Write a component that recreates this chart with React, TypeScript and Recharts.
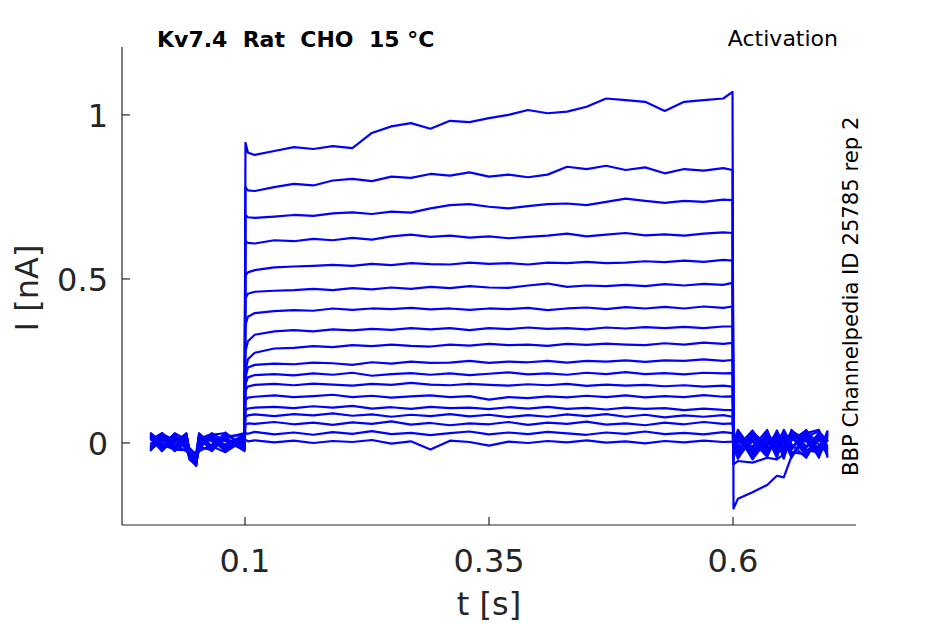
import React from 'react';
import { Line, LineChart, XAxis, YAxis } from 'recharts';

// time grids [s]: holding, step, tail
const PRE_T = [0.003, 0.015, 0.028, 0.04, 0.043, 0.05, 0.053, 0.066, 0.08, 0.0995];
const STEP_T = [
  0.1005, 0.103, 0.11, 0.13, 0.15, 0.17, 0.19, 0.21, 0.23, 0.25, 0.27, 0.29, 0.31, 0.33,
  0.35, 0.37, 0.39, 0.41, 0.43, 0.45, 0.47, 0.49, 0.51, 0.53, 0.55, 0.57, 0.59, 0.5995,
];
const POST_T = [0.6005, 0.605, 0.62, 0.635, 0.645, 0.652, 0.66, 0.675, 0.688, 0.697];

const X_TICKS = [0.1, 0.35, 0.6];
const Y_TICKS = [0, 0.5, 1];

// currents [nA], one sweep per array (pre | step | post)
const I01 = [
  0.02, -0.015, 0.025, -0.01, -0.03, -0.05, 0.015, -0.02, 0.028, -0.012,
  0.915, 0.885, 0.878, 0.89, 0.902, 0.896, 0.905, 0.899, 0.945, 0.965, 0.975, 0.958, 0.982, 0.978,
  0.99, 1.0, 1.015, 1.005, 1.01, 1.025, 1.05, 1.045, 1.04, 1.012, 1.04, 1.045, 1.05, 1.07,
  -0.2, -0.17, -0.15, -0.128, -0.1, -0.105, -0.04, 0.012, -0.022, 0.018,
];
const I02 = [
  -0.018, 0.022, -0.012, 0.02, -0.04, -0.065, -0.01, 0.025, -0.015, 0.02,
  0.78, 0.77, 0.768, 0.78, 0.79, 0.785, 0.8, 0.805, 0.798, 0.812, 0.808, 0.82, 0.815, 0.825,
  0.812, 0.818, 0.81, 0.818, 0.842, 0.835, 0.845, 0.832, 0.84, 0.822, 0.835, 0.83, 0.838, 0.832,
  -0.065, -0.055, -0.06, -0.045, -0.05, -0.035, 0.02, -0.03, 0.025, -0.015,
];
const I03 = [
  0.01, 0.03, -0.02, 0.015, -0.025, -0.055, 0.022, -0.018, 0.015, 0.03,
  0.695, 0.688, 0.686, 0.69, 0.695, 0.692, 0.7, 0.703, 0.698, 0.705, 0.702, 0.715, 0.725, 0.728,
  0.72, 0.715, 0.722, 0.728, 0.73, 0.725, 0.735, 0.745, 0.738, 0.732, 0.738, 0.735, 0.742, 0.74,
  -0.04, 0.02, -0.03, 0.03, -0.02, 0.025, -0.035, 0.015, -0.025, 0.03,
];
const I04 = [
  -0.022, 0.008, 0.018, -0.02, -0.035, -0.04, -0.015, 0.018, -0.022, 0.005,
  0.615, 0.61, 0.608, 0.618, 0.615, 0.622, 0.618, 0.625, 0.62, 0.63, 0.635, 0.628, 0.632, 0.626,
  0.63, 0.624, 0.628, 0.632, 0.638, 0.63, 0.635, 0.64, 0.633, 0.636, 0.632, 0.638, 0.642, 0.64,
  0.03, -0.045, 0.015, -0.01, 0.035, -0.03, 0.02, -0.04, 0.028, -0.01,
];
const I05 = [
  0.028, -0.02, 0.005, 0.025, -0.02, -0.06, 0.01, -0.01, 0.032, -0.018,
  0.51, 0.52, 0.527, 0.535, 0.538, 0.54, 0.543, 0.54, 0.546, 0.542, 0.548, 0.545, 0.544, 0.55,
  0.546, 0.548, 0.544, 0.55, 0.548, 0.552, 0.548, 0.55, 0.554, 0.551, 0.556, 0.552, 0.558, 0.556,
  -0.02, 0.035, -0.04, 0.022, -0.01, 0.01, -0.045, 0.032, -0.02, 0.02,
];
const I06 = [
  -0.01, 0.015, -0.025, 0.008, -0.045, -0.07, 0.025, 0.005, -0.02, 0.015,
  0.44, 0.455, 0.461, 0.464, 0.466, 0.47, 0.466, 0.472, 0.468, 0.474, 0.47, 0.476, 0.472, 0.478,
  0.474, 0.473, 0.48, 0.486, 0.476, 0.48, 0.478, 0.482, 0.478, 0.484, 0.48, 0.485, 0.482, 0.488,
  0.01, -0.03, 0.028, -0.035, 0.015, -0.048, 0.03, -0.01, 0.015, -0.04,
];
const I07 = [
  0.015, -0.025, 0.02, -0.015, -0.015, -0.035, -0.02, 0.03, 0.005, -0.022,
  0.36, 0.385, 0.396, 0.402, 0.405, 0.403, 0.41, 0.406, 0.41, 0.408, 0.412, 0.407, 0.41, 0.406,
  0.41, 0.408, 0.412, 0.405, 0.41, 0.413, 0.408, 0.414, 0.41, 0.415, 0.41, 0.416, 0.412, 0.416,
  -0.05, 0.012, -0.015, 0.04, -0.04, 0.02, -0.012, 0.025, -0.045, 0.035,
];
const I08 = [
  -0.025, 0.025, 0.0, 0.03, -0.03, -0.045, 0.018, -0.025, 0.02, 0.025,
  0.28, 0.31, 0.33, 0.34, 0.344, 0.34, 0.346, 0.343, 0.348, 0.345, 0.35, 0.346, 0.35, 0.344,
  0.35, 0.347, 0.352, 0.348, 0.35, 0.346, 0.352, 0.349, 0.353, 0.35, 0.354, 0.35, 0.355, 0.355,
  0.025, -0.01, 0.038, -0.025, 0.005, 0.035, -0.028, -0.035, 0.01, -0.025,
];
const I09 = [
  0.032, 0.0, -0.015, -0.005, -0.05, -0.068, -0.005, 0.012, -0.025, 0.01,
  0.22, 0.255, 0.275, 0.288, 0.29, 0.295, 0.292, 0.298, 0.295, 0.3, 0.296, 0.294, 0.3, 0.297,
  0.302, 0.298, 0.3, 0.296, 0.302, 0.299, 0.303, 0.3, 0.298, 0.304, 0.3, 0.306, 0.302, 0.305,
  -0.03, 0.028, -0.05, 0.01, -0.032, -0.015, 0.038, 0.005, -0.038, 0.025,
];
const I10 = [
  0.0, -0.01, 0.03, 0.01, -0.025, -0.03, 0.03, -0.015, 0.01, -0.02,
  0.2, 0.23, 0.238, 0.242, 0.24, 0.245, 0.243, 0.238, 0.246, 0.242, 0.248, 0.244, 0.245, 0.25,
  0.244, 0.248, 0.246, 0.25, 0.245, 0.25, 0.248, 0.252, 0.247, 0.252, 0.25, 0.255, 0.25, 0.253,
  0.035, -0.038, 0.005, -0.042, 0.03, -0.022, 0.008, 0.038, -0.005, -0.03,
];
const I11 = [
  -0.015, 0.03, -0.005, -0.025, -0.035, -0.058, 0.005, 0.022, -0.01, 0.028,
  0.18, 0.2, 0.207, 0.21, 0.206, 0.212, 0.208, 0.214, 0.205, 0.21, 0.213, 0.208, 0.212, 0.207,
  0.211, 0.215, 0.209, 0.212, 0.208, 0.214, 0.21, 0.216, 0.21, 0.213, 0.209, 0.214, 0.212, 0.213,
  -0.01, 0.04, -0.022, 0.018, -0.045, 0.03, -0.038, 0.02, 0.035, 0.005,
];
const I12 = [
  0.022, -0.022, 0.012, 0.022, -0.02, -0.042, -0.025, -0.005, 0.025, -0.005,
  0.16, 0.172, 0.177, 0.18, 0.176, 0.181, 0.178, 0.175, 0.18, 0.177, 0.183, 0.178, 0.176, 0.18,
  0.177, 0.175, 0.179, 0.176, 0.18, 0.174, 0.178, 0.175, 0.177, 0.173, 0.176, 0.172, 0.175, 0.172,
  0.018, -0.025, 0.032, -0.005, 0.02, -0.04, 0.015, -0.02, -0.03, 0.038,
];
const I13 = [
  -0.005, 0.018, -0.022, 0.0, -0.04, -0.062, 0.012, 0.028, -0.018, 0.018,
  0.13, 0.138, 0.141, 0.145, 0.14, 0.143, 0.147, 0.14, 0.144, 0.138, 0.142, 0.145, 0.14, 0.143,
  0.132, 0.14, 0.137, 0.142, 0.139, 0.144, 0.14, 0.145, 0.139, 0.143, 0.14, 0.146, 0.141, 0.142,
  -0.045, 0.005, -0.01, 0.035, -0.025, 0.04, -0.005, -0.045, 0.02, -0.035,
];
const I14 = [
  0.025, -0.008, 0.028, -0.018, -0.03, -0.05, -0.012, -0.022, 0.018, -0.025,
  0.1, 0.105, 0.108, 0.11, 0.106, 0.112, 0.108, 0.113, 0.105, 0.109, 0.104, 0.11, 0.106, 0.108,
  0.103, 0.109, 0.105, 0.11, 0.104, 0.107, 0.102, 0.108, 0.104, 0.106, 0.1, 0.105, 0.101, 0.1,
  0.005, -0.048, 0.022, -0.03, 0.038, -0.01, 0.035, 0.01, -0.015, 0.012,
];
const I15 = [
  -0.02, 0.01, -0.01, 0.028, -0.022, -0.038, 0.02, 0.01, -0.005, 0.022,
  0.08, 0.084, 0.087, 0.082, 0.088, 0.084, 0.09, 0.083, 0.087, 0.08, 0.086, 0.082, 0.088, 0.081,
  0.086, 0.079, 0.085, 0.08, 0.087, 0.082, 0.088, 0.08, 0.086, 0.078, 0.084, 0.08, 0.085, 0.08,
  -0.025, 0.03, -0.035, 0.005, -0.015, 0.018, -0.04, 0.03, 0.04, -0.045,
];
const I16 = [
  0.012, -0.02, 0.022, -0.008, -0.045, -0.055, -0.018, 0.025, 0.03, -0.01,
  0.055, 0.06, 0.058, 0.064, 0.057, 0.062, 0.055, 0.063, 0.058, 0.066, 0.056, 0.061, 0.054, 0.06,
  0.057, 0.064, 0.055, 0.062, 0.058, 0.065, 0.056, 0.06, 0.054, 0.062, 0.057, 0.064, 0.058, 0.06,
  0.04, -0.015, 0.01, -0.04, 0.025, -0.028, 0.025, -0.03, -0.01, 0.028,
];
const I17 = [
  -0.012, 0.028, 0.008, 0.012, -0.028, -0.048, 0.028, -0.01, -0.028, 0.012,
  0.03, 0.028, 0.034, 0.026, 0.032, 0.025, 0.033, 0.028, 0.036, 0.027, 0.031, 0.024, 0.03, 0.035,
  0.026, 0.032, 0.027, 0.034, 0.029, 0.025, 0.032, 0.028, 0.035, 0.027, 0.031, 0.026, 0.033, 0.03,
  -0.035, 0.018, -0.045, 0.028, -0.005, 0.005, -0.02, 0.04, -0.04, 0.01,
];
const I18 = [
  0.018, -0.005, -0.02, -0.022, -0.038, -0.066, 0.0, 0.015, 0.008, 0.0,
  0.01, 0.005, 0.008, 0.002, 0.007, 0.0, 0.006, 0.003, 0.009, -0.002, 0.005, -0.02, 0.007, 0.003,
  -0.008, 0.004, 0.0, 0.006, 0.002, 0.008, 0.001, 0.005, -0.001, 0.006, 0.002, 0.007, 0.003, 0.004,
  0.015, -0.035, 0.035, -0.018, 0.01, -0.045, 0.04, -0.015, 0.03, -0.02,
];

const SWEEPS = [I01, I02, I03, I04, I05, I06, I07, I08, I09, I10, I11, I12, I13, I14, I15, I16, I17, I18];
const T = [...PRE_T, ...STEP_T, ...POST_T];

const AXIS = '#262626';
const FONT = 'DejaVu Sans';

const YTick = (props: any) => {
  const { x, y, payload } = props;
  return (
    <g>
      <line x1={x} x2={x + 8} y1={y} y2={y} stroke={AXIS} strokeWidth={1.2} />
      <text x={x - 14} y={y + 12} textAnchor="end" fontSize={32} fontFamily={FONT} fill={AXIS}>
        {payload.value}
      </text>
    </g>
  );
};

const XTick = (props: any) => {
  const { x, y, payload } = props;
  return (
    <g>
      <line x1={x} x2={x} y1={y} y2={y - 8} stroke={AXIS} strokeWidth={1.2} />
      <text x={x} y={y + 47} textAnchor="middle" fontSize={32} fontFamily={FONT} fill={AXIS}>
        {payload.value}
      </text>
    </g>
  );
};

export default function App() {
  return (
    <div style={{ position: 'absolute', left: 0, top: 0, width: 945, height: 624, background: '#fff' }}>
      <LineChart width={945} height={624} margin={{ top: 47, right: 89, bottom: 39, left: 62 }}>
        <XAxis
          type="number"
          dataKey="t"
          domain={[-0.026, 0.726]}
          ticks={X_TICKS}
          allowDataOverflow
          height={60}
          axisLine={{ stroke: AXIS, strokeWidth: 1.2 }}
          tickLine={false}
          tickSize={0}
          tickMargin={0}
          tick={<XTick />}
        />
        <YAxis
          type="number"
          dataKey="i"
          domain={[-0.25, 1.207]}
          ticks={Y_TICKS}
          allowDataOverflow
          width={60}
          axisLine={{ stroke: AXIS, strokeWidth: 1.2 }}
          tickLine={false}
          tickSize={0}
          tickMargin={0}
          tick={<YTick />}
        />
        {SWEEPS.map((sw, k) => (
          <Line
            key={k}
            data={T.map((t, j) => ({ t, i: sw[j] }))}
            dataKey="i"
            type="linear"
            stroke="#0000ff"
            strokeWidth={2.2}
            strokeLinejoin="round"
            dot={false}
            isAnimationActive={false}
          />
        ))}
      </LineChart>
      <svg width={945} height={624} style={{ position: 'absolute', left: 0, top: 0, pointerEvents: 'none' }}>
        <text x={157} y={47} fontSize={22} fontWeight="bold" fontFamily={FONT} fill="#000" style={{ whiteSpace: 'pre' }}>
          {'Kv7.4  Rat  CHO  15 °C'}
        </text>
        <text x={838} y={46} textAnchor="end" fontSize={22} fontFamily={FONT} fill="#000">
          Activation
        </text>
        <text
          transform="translate(858,476) rotate(-90)"
          fontSize={21.2}
          fontFamily={FONT}
          fill="#000"
        >
          BBP Channelpedia ID 25785 rep 2
        </text>
        <text transform="translate(38,288) rotate(-90)" textAnchor="middle" fontSize={32} fontFamily={FONT} fill={AXIS}>
          I [nA]
        </text>
        <text x={489} y={615} textAnchor="middle" fontSize={32} fontFamily={FONT} fill={AXIS}>
          t [s]
        </text>
      </svg>
    </div>
  );
}
